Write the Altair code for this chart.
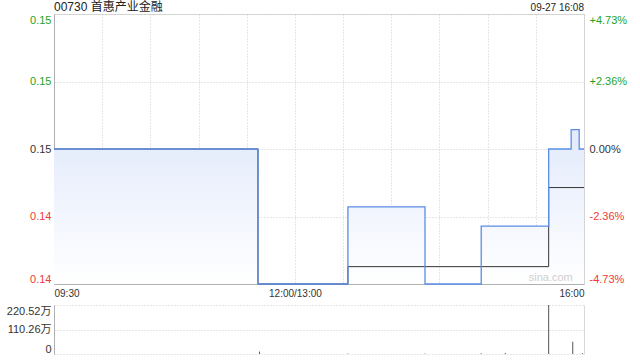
import altair as alt
import pandas as pd

TITLE = "00730 首惠产业金融"
STAMP = "09-27 16:08"
WATERMARK = "sina.com"
FONT = "Liberation Sans, Noto Sans CJK SC, sans-serif"

PREV_CLOSE = 0.148
Y_MIN, Y_MAX = 0.141, 0.155

price_times = ["09:30", "11:37", "13:33", "14:21", "14:56", "15:38", "15:52", "15:57", "16:00"]
price_values = [0.148, 0.141, 0.145, 0.141, 0.144, 0.148, 0.149, 0.148, 0.148]

avg_times = ["09:30", "11:37", "13:33", "15:38", "16:00"]
avg_values = [0.148, 0.141, 0.1419, 0.146, 0.146]

vol_times = ["11:38", "13:33", "14:21", "14:56", "15:11", "15:38", "15:53", "15:59"]
vol_values = [11.0, 2.0, 2.0, 3.0, 5.0, 220.52, 55.0, 4.0]  # 万

y_ticks = [0.141, 0.1445, 0.148, 0.1515, 0.155]
y_labels = ["0.14", "0.14", "0.15", "0.15", "0.15"]
pct_labels = ["-4.73%", "-2.36%", "0.00%", "+2.36%", "+4.73%"]

x_grid_times = ["09:30", "10:00", "10:30", "11:00", "11:30", "12:00",
                "13:30", "14:00", "14:30", "15:00", "15:30", "16:00"]
x_label_times = ["09:30", "12:00", "16:00"]
x_labels = ["09:30", "12:00/13:00", "16:00"]

vol_ticks = [0, 110.26, 220.52]
vol_labels = ["0", "110.26万", "220.52万"]

GREEN = "#1ea31e"
RED = "#f03a3a"
DARK = "#333333"


def idx(t):
    h, m = map(int, t.split(":"))
    mins = h * 60 + m
    return mins - 570 if mins <= 720 else mins - 780 + 150


def expr_map(vals, labs):
    s = "''"
    for v, l in reversed(list(zip(vals, labs))):
        s = f"(abs(datum.value - {v}) < 1e-6 ? '{l}' : {s})"
    return s


price_df = pd.DataFrame({"t": [idx(t) for t in price_times], "p": price_values})
avg_df = pd.DataFrame({"t": [idx(t) for t in avg_times], "p": avg_values})
vol_df = pd.DataFrame({"t": [idx(t) for t in vol_times], "v": vol_values})
text_df = pd.DataFrame({"t": [0, idx("16:00"), 323], "label": [TITLE, STAMP, WATERMARK]})

xs = alt.Scale(domain=[0, 330], nice=False, zero=False)
ys = alt.Scale(domain=[Y_MIN, Y_MAX], nice=False, zero=False)
vs = alt.Scale(domain=[0, max(vol_ticks)], nice=False)

color_cond = {
    "condition": [
        {"test": f"datum.value > {PREV_CLOSE + 1e-5}", "value": GREEN},
        {"test": f"datum.value < {PREV_CLOSE - 1e-5}", "value": RED},
    ],
    "value": DARK,
}

x_axis = alt.Axis(
    values=[idx(t) for t in x_grid_times],
    labelExpr=expr_map([idx(t) for t in x_label_times], x_labels),
    labelFontSize=10, labelPadding=4, labelColor=DARK, ticks=False,
    domainColor="#b0b0b0", grid=True, gridColor="#cccccc", gridDash=[1, 2],
    labelFlush=True, labelOverlap=False, title=None,
)
y_left = alt.Axis(
    values=y_ticks, labelExpr=expr_map(y_ticks, y_labels), labelColor=color_cond,
    labelFontSize=11, labelPadding=3, ticks=False, domainColor="#b0b0b0",
    grid=True, gridColor="#cccccc", gridDash=[1, 2], labelFlush=True, title=None,
)
y_right = alt.Axis(
    orient="right", values=y_ticks, labelExpr=expr_map(y_ticks, pct_labels),
    labelColor=color_cond, labelFontSize=11, labelPadding=5, ticks=False,
    domain=False, grid=False, labelFlush=True, title=None,
)

grad = alt.Gradient(
    gradient="linear",
    stops=[alt.GradientStop(color="#e2eafb", offset=0),
           alt.GradientStop(color="#ffffff", offset=1)],
    x1=0, x2=0, y1=0, y2=1,
)

area = alt.Chart(price_df).mark_area(interpolate="step-after", color=grad).encode(
    x=alt.X("t:Q", scale=xs, axis=x_axis),
    y=alt.Y("p:Q", scale=ys, axis=y_left),
    y2=alt.datum(Y_MIN),
)
avg_line = alt.Chart(avg_df).mark_line(interpolate="step-after", color="#333333", strokeWidth=1).encode(
    x=alt.X("t:Q", scale=xs),
    y=alt.Y("p:Q", scale=ys, axis=y_right),
)
price_line = alt.Chart(price_df).mark_line(interpolate="step-after", color="#5b8de6", strokeWidth=1.3).encode(
    x=alt.X("t:Q", scale=xs),
    y=alt.Y("p:Q", scale=ys, axis=None),
)
title_txt = alt.Chart(text_df).transform_filter(alt.datum.label == TITLE).mark_text(
    align="left", baseline="bottom", fontSize=12, color="#222222", font=FONT
).encode(x=alt.X("t:Q", scale=xs), y=alt.value(0), text="label:N")
stamp_txt = alt.Chart(text_df).transform_filter(alt.datum.label == STAMP).mark_text(
    align="right", baseline="bottom", fontSize=10, color="#222222", font=FONT
).encode(x=alt.X("t:Q", scale=xs), y=alt.value(-1), text="label:N")
wm_txt = alt.Chart(text_df).transform_filter(alt.datum.label == WATERMARK).mark_text(
    align="right", baseline="alphabetic", fontSize=11, color="#cfcfcf", font=FONT
).encode(x=alt.X("t:Q", scale=xs), y=alt.Y(datum=0.14118, scale=ys, axis=None), text="label:N")

main = alt.layer(area, avg_line, price_line, title_txt, stamp_txt, wm_txt).resolve_scale(
    y="independent"
).properties(width=530, height=270, view=alt.ViewBackground(stroke="#d8d8d8"))

v_left = alt.Axis(
    values=vol_ticks, labelExpr=expr_map(vol_ticks, vol_labels), labelColor=DARK,
    labelFontSize=11, labelPadding=3, ticks=False, domainColor="#b0b0b0",
    grid=True, gridColor="#cccccc", gridDash=[1, 2], labelFlush=True, title=None,
)
v_right = alt.Axis(orient="right", labels=False, ticks=False, grid=False,
                   domain=True, domainColor="#d8d8d8", title=None)

vol_bars = alt.Chart(vol_df).mark_rule(color="#555555", strokeWidth=1).encode(
    x=alt.X("t:Q", scale=xs, axis=None),
    y=alt.Y("v:Q", scale=vs, axis=v_left),
    y2=alt.datum(0),
)
vol_border = alt.Chart(vol_df).mark_rule(opacity=0).encode(
    x=alt.X("t:Q", scale=xs, axis=None),
    y=alt.Y("v:Q", scale=vs, axis=v_right),
)
vol = alt.layer(vol_bars, vol_border).resolve_scale(y="independent").properties(
    width=530, height=49, view=alt.ViewBackground(stroke=None)
)

chart = alt.vconcat(main, vol, spacing=21, bounds="flush").properties(
    padding={"left": 6, "top": 0, "right": 10, "bottom": 4},
    background="white",
).configure(font=FONT).configure_axis(labelFont=FONT)

chart.save("out.html", embed_options={"renderer": "svg", "actions": False})
